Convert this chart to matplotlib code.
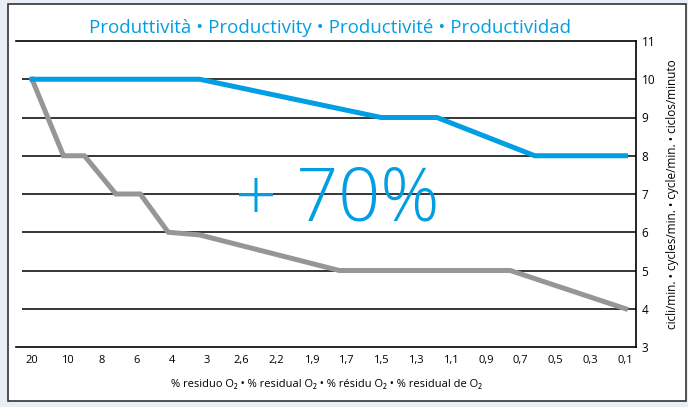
import numpy as np
import matplotlib.pyplot as plt
from matplotlib.patches import Rectangle

plt.rcParams['font.family'] = ['Open Sans', 'DejaVu Sans']

# categorical x axis (residual O2 %)
x_labels = ["20", "10", "8", "6", "4", "3", "2,6", "2,2", "1,9", "1,7",
            "1,5", "1,3", "1,1", "0,9", "0,7", "0,5", "0,3", "0,1"]

# blue line (new): positions on the category scale, cycles/min
blue_x = [0, 4.8, 10.0, 11.6, 14.4, 17.0]
blue_y = [10, 10, 9, 9, 8, 8]

# grey line (old)
grey_x = [0, 0.9, 1.5, 2.4, 3.1, 3.9, 4.8, 8.8, 13.7, 17.0]
grey_y = [10, 8, 8, 7, 7, 6, 5.93, 5, 5, 4]

y_ticks = [3, 4, 5, 6, 7, 8, 9, 10, 11]

blue = '#009fe3'
grey = '#969696'

fig = plt.figure(figsize=(6.88, 4.07), dpi=100)
fig.patch.set_facecolor('#e9eef6')
frame = Rectangle((8 / 688, 1 - 401 / 407), 678 / 688, 397 / 407,
                  transform=fig.transFigure, facecolor='white',
                  edgecolor='#333333', linewidth=1.2, zorder=-5)
fig.patches.append(frame)

ax = fig.add_axes([16 / 688, 1 - 347 / 407, 620 / 688, 306 / 407])
ax.set_facecolor('none')
xmin, xmax = -0.46, 17.3
ax.set_xlim(xmin, xmax)
ax.set_ylim(3, 11)

ax.spines['left'].set_visible(False)
for s in ['top', 'bottom', 'right']:
    ax.spines[s].set_linewidth(1.2)
    ax.spines[s].set_color('black')

ax.hlines(y_ticks[1:-1], -0.29, xmax, color='black', linewidth=1.1, zorder=1)

ax.plot(grey_x, grey_y, color=grey, linewidth=3.6, solid_joinstyle='miter', zorder=3)
ax.plot(blue_x, blue_y, color=blue, linewidth=3.6, solid_joinstyle='miter', zorder=3)

ax.set_xticks(np.arange(len(x_labels)))
ax.set_xticklabels(x_labels, fontsize=8)
ax.tick_params(axis='x', length=0, pad=6)
ax.yaxis.tick_right()
ax.set_yticks(y_ticks)
ax.tick_params(axis='y', length=0, pad=4, labelsize=8.5)

ax.set_xlabel('% residuo O₂ • % residual O₂ • % résidu O₂ • % residual de O₂',
              fontsize=8, labelpad=9)
ax.yaxis.set_label_position('right')
ax.set_ylabel('cicli/min. • cycles/min. • cycle/min. • ciclos/minuto',
              fontsize=8.5, labelpad=8)

ax.text(8.75, 6.32, '+ 70%', color=blue, fontsize=53, fontweight='light',
        ha='center', va='baseline', zorder=2)

fig.text(330 / 688, 1 - 33 / 407, 'Produttività • Productivity • Productivité • Productividad',
         color=blue, fontsize=13.5, ha='center', va='baseline')

fig.savefig('out.png', dpi=100)
